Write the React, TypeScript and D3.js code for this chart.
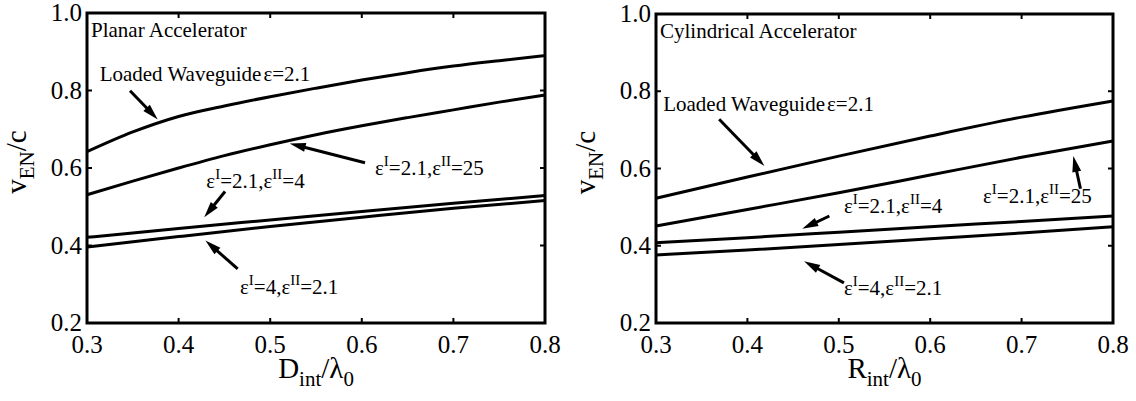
import React from 'react';
import * as d3 from 'd3';

// ---------- data ----------
const xTicks = [0.3, 0.4, 0.5, 0.6, 0.7, 0.8];
const xTickLabels = ['0.3', '0.4', '0.5', '0.6', '0.7', '0.8'];
const yTicks = [0.2, 0.4, 0.6, 0.8, 1.0];
const yTickLabels = ['0.2', '0.4', '0.6', '0.8', '1.0'];

// Planar accelerator
const planarXFine = [0.3, 0.35, 0.4, 0.45, 0.5, 0.55, 0.6, 0.65, 0.7, 0.75, 0.8];
const planarLoaded = [0.642, 0.693, 0.733, 0.760, 0.784, 0.806, 0.827, 0.846, 0.863, 0.877, 0.890];
const planarE21E25 = [0.531, 0.566, 0.600, 0.632, 0.660, 0.686, 0.709, 0.730, 0.750, 0.770, 0.788];
const planarX = [0.3, 0.4, 0.5, 0.6, 0.7, 0.8];
const planarE21E4 = [0.421, 0.444, 0.466, 0.488, 0.509, 0.529];
const planarE4E21 = [0.396, 0.423, 0.449, 0.473, 0.496, 0.516];

// Cylindrical accelerator
const cylX = [0.3, 0.4, 0.5, 0.6, 0.7, 0.8];
const cylLoaded = [0.523, 0.578, 0.632, 0.684, 0.733, 0.775];
const cylE21E25 = [0.451, 0.494, 0.537, 0.583, 0.629, 0.671];
const cylE21E4 = [0.408, 0.421, 0.435, 0.449, 0.463, 0.477];
const cylE4E21 = [0.376, 0.389, 0.403, 0.418, 0.433, 0.449];

// ---------- layout ----------
const FONT = '"Liberation Serif", "Times New Roman", serif';

type Frame = { x0: number; x1: number; y0: number; y1: number };
type Series = { xs: number[]; ys: number[] };
type Ann = {
  kind: 'loaded' | 'eps';
  a?: string;
  b?: string;
  label: [number, number]; // data coords of text start (baseline)
  tail: [number, number];
  head: [number, number];
};

const EpsText = ({ x, y, a, b }: { x: number; y: number; a: string; b: string }) => (
  <text x={x} y={y} fontFamily={FONT} fontSize={21} fill="#000">
    ε
    <tspan dy={-9} fontSize={15}>I</tspan>
    <tspan dy={9}>{`=${a},ε`}</tspan>
    <tspan dy={-9} fontSize={15}>II</tspan>
    <tspan dy={9}>{`=${b}`}</tspan>
  </text>
);

const Arrow = ({ x1, y1, x2, y2 }: { x1: number; y1: number; x2: number; y2: number }) => {
  const dx = x2 - x1;
  const dy = y2 - y1;
  const len = Math.hypot(dx, dy);
  const ux = dx / len;
  const uy = dy / len;
  const hl = 16;
  const hw = 4.5;
  const bx = x2 - ux * hl;
  const by = y2 - uy * hl;
  const pts = [
    [x2, y2],
    [bx - uy * hw, by + ux * hw],
    [bx + uy * hw, by - ux * hw],
  ];
  return (
    <g>
      <line x1={x1} y1={y1} x2={x2 - ux * 10} y2={y2 - uy * 10} stroke="#000" strokeWidth={3} />
      <polygon points={pts.map((p) => p.join(',')).join(' ')} fill="#000" />
    </g>
  );
};

const Panel = ({
  frame,
  title,
  xVar,
  series,
  anns,
  yLabelX,
}: {
  frame: Frame;
  title: string;
  xVar: string;
  series: Series[];
  anns: Ann[];
  yLabelX: number;
}) => {
  const x = d3.scaleLinear().domain([0.3, 0.8]).range([frame.x0, frame.x1]);
  const y = d3.scaleLinear().domain([0.2, 1.0]).range([frame.y1, frame.y0]);
  const line = d3
    .line<[number, number]>()
    .x((d) => x(d[0]))
    .y((d) => y(d[1]))
    .curve(d3.curveMonotoneX);
  const tickLen = 5;
  const cx = (frame.x0 + frame.x1) / 2;
  const cy = (frame.y0 + frame.y1) / 2;
  return (
    <g>
      {/* curves */}
      {series.map((s, i) => (
        <path
          key={i}
          d={line(s.xs.map((v, j) => [v, s.ys[j]] as [number, number])) || ''}
          fill="none"
          stroke="#000"
          strokeWidth={3}
        />
      ))}
      {/* ticks */}
      {xTicks.map((t, i) => (
        <g key={'xt' + i}>
          <line x1={x(t)} x2={x(t)} y1={frame.y1} y2={frame.y1 - tickLen} stroke="#000" strokeWidth={2} />
          <line x1={x(t)} x2={x(t)} y1={frame.y0} y2={frame.y0 + tickLen} stroke="#000" strokeWidth={2} />
          <text
            x={x(t)}
            y={frame.y1 + 30}
            textAnchor="middle"
            fontFamily={FONT}
            fontSize={25}
            fill="#000"
          >
            {xTickLabels[i]}
          </text>
        </g>
      ))}
      {yTicks.map((t, i) => (
        <g key={'yt' + i}>
          <line x1={frame.x0} x2={frame.x0 + tickLen} y1={y(t)} y2={y(t)} stroke="#000" strokeWidth={2} />
          <line x1={frame.x1} x2={frame.x1 - tickLen} y1={y(t)} y2={y(t)} stroke="#000" strokeWidth={2} />
          <text
            x={frame.x0 - 5}
            y={y(t) + 8}
            textAnchor="end"
            fontFamily={FONT}
            fontSize={25}
            fill="#000"
          >
            {yTickLabels[i]}
          </text>
        </g>
      ))}
      {/* frame */}
      <rect
        x={frame.x0}
        y={frame.y0}
        width={frame.x1 - frame.x0}
        height={frame.y1 - frame.y0}
        fill="none"
        stroke="#000"
        strokeWidth={3}
      />
      {/* title */}
      <text x={frame.x0 + 4} y={frame.y0 + 24} fontFamily={FONT} fontSize={21} fill="#000">
        {title}
      </text>
      {/* annotations */}
      {anns.map((a, i) => (
        <g key={'a' + i}>
          {a.kind === 'loaded' ? (
            <text x={x(a.label[0])} y={y(a.label[1])} fontFamily={FONT} fontSize={21} fill="#000">
              Loaded Waveguide
              <tspan dx={2}>ε=2.1</tspan>
            </text>
          ) : (
            <EpsText x={x(a.label[0])} y={y(a.label[1])} a={a.a || ''} b={a.b || ''} />
          )}
          <Arrow x1={x(a.tail[0])} y1={y(a.tail[1])} x2={x(a.head[0])} y2={y(a.head[1])} />
        </g>
      ))}
      {/* x label */}
      <text x={cx} y={frame.y1 + 55} textAnchor="middle" fontFamily={FONT} fontSize={29} fill="#000">
        {xVar}
        <tspan dy={8} fontSize={21}>int</tspan>
        <tspan dy={-8}>/λ</tspan>
        <tspan dy={8} fontSize={21}>0</tspan>
      </text>
      {/* y label */}
      <text
        transform={`translate(${yLabelX},${cy - 6}) rotate(-90)`}
        textAnchor="middle"
        fontFamily={FONT}
        fontSize={29}
        fill="#000"
      >
        v<tspan dy={8} fontSize={21}>EN</tspan>
        <tspan dy={-8}>/c</tspan>
      </text>
    </g>
  );
};

const planarFrame: Frame = { x0: 87, x1: 545, y0: 13, y1: 323 };
const cylFrame: Frame = { x0: 656, x1: 1113, y0: 14, y1: 323 };

const planarAnns: Ann[] = [
  { kind: 'loaded', label: [0.3138, 0.8235], tail: [0.347, 0.7995], head: [0.3772, 0.7254] },
  { kind: 'eps', a: '2.1', b: '25', label: [0.6144, 0.582], tail: [0.6035, 0.6137], head: [0.5213, 0.6632] },
  { kind: 'eps', a: '2.1', b: '4', label: [0.4303, 0.5484], tail: [0.4507, 0.5394], head: [0.428, 0.4728] },
  { kind: 'eps', a: '4', b: '2.1', label: [0.467, 0.2748], tail: [0.4645, 0.3394], head: [0.4293, 0.4132] },
];

const cylAnns: Ann[] = [
  { kind: 'loaded', label: [0.3079, 0.749], tail: [0.3691, 0.7276], head: [0.4186, 0.6065] },
  { kind: 'eps', a: '2.1', b: '25', label: [0.6578, 0.5115], tail: [0.7644, 0.5477], head: [0.7566, 0.6324] },
  { kind: 'eps', a: '2.1', b: '4', label: [0.5056, 0.4856], tail: [0.4897, 0.477], head: [0.46, 0.4439] },
  { kind: 'eps', a: '4', b: '2.1', label: [0.5056, 0.2735], tail: [0.5056, 0.3038], head: [0.462, 0.36] },
];

export default function App() {
  return (
    <svg
      width={1136}
      height={401}
      viewBox="0 0 1136 401"
      style={{ position: 'absolute', left: 0, top: 0, background: '#fff' }}
    >
      <rect x={0} y={0} width={1136} height={401} fill="#fff" />
      <Panel
        frame={planarFrame}
        title="Planar Accelerator"
        xVar="D"
        yLabelX={26}
        series={[
          { xs: planarXFine, ys: planarLoaded },
          { xs: planarXFine, ys: planarE21E25 },
          { xs: planarX, ys: planarE21E4 },
          { xs: planarX, ys: planarE4E21 },
        ]}
        anns={planarAnns}
      />
      <Panel
        frame={cylFrame}
        title="Cylindrical Accelerator"
        xVar="R"
        yLabelX={595}
        series={[
          { xs: cylX, ys: cylLoaded },
          { xs: cylX, ys: cylE21E25 },
          { xs: cylX, ys: cylE21E4 },
          { xs: cylX, ys: cylE4E21 },
        ]}
        anns={cylAnns}
      />
    </svg>
  );
}
